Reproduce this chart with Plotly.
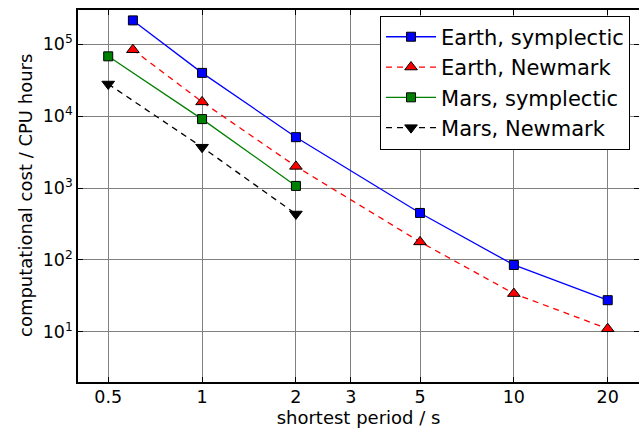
import math
import plotly.graph_objects as go

# Data
earth_x = [0.6, 1, 2, 5, 10, 20]
earth_symp = [2.15e5, 4.0e4, 5.1e3, 450, 85, 27.5]
earth_newm = [8.4e4, 1.58e4, 2.0e3, 178, 34, 11]
mars_x = [0.5, 1, 2]
mars_symp = [6.8e4, 9.1e3, 1.07e3]
mars_newm = [2.8e4, 3.7e3, 435]

x_ticks = [0.5, 1, 2, 3, 5, 10, 20]
x_ticklabels = ["0.5", "1", "2", "3", "5", "10", "20"]
y_ticks = [10, 100, 1000, 10000, 100000]
y_ticklabels = ["10<sup>1</sup>", "10<sup>2</sup>", "10<sup>3</sup>", "10<sup>4</sup>", "10<sup>5</sup>"]

FONT = "DejaVu Sans"

fig = go.Figure()

def add(x, y, name, color, symbol, dash, size):
    fig.add_trace(go.Scatter(
        x=x, y=y, name=name, mode="lines+markers",
        line=dict(color=color, width=1.3, dash=dash),
        marker=dict(symbol=symbol, size=size, color=color,
                    line=dict(color="black", width=1)),
    ))

add(earth_x, earth_symp, "Earth, symplectic", "#0000ff", "square", "solid", 9)
add(earth_x, earth_newm, "Earth, Newmark", "#ff0000", "triangle-up", "6px,5px", 11)
add(mars_x, mars_symp, "Mars, symplectic", "#008000", "square", "solid", 9)
add(mars_x, mars_newm, "Mars, Newmark", "#000000", "triangle-down", "6px,5px", 11)

fig.update_layout(
    width=639, height=429,
    margin=dict(l=78, r=0, t=10, b=47, autoexpand=False),
    paper_bgcolor="white", plot_bgcolor="white",
    font=dict(family=FONT, size=17.5, color="black"),
    showlegend=True,
    legend=dict(
        x=0.984, y=0.985, xanchor="right", yanchor="top",
        bgcolor="white", bordercolor="black", borderwidth=1,
        font=dict(family=FONT, size=21, color="black"),
        tracegroupgap=0, itemwidth=50,
    ),
    annotations=[dict(
        text="computational cost / CPU hours",
        xref="paper", yref="paper", x=-(78 - 25) / 561, y=0.5,
        xanchor="center", yanchor="middle", textangle=-90, showarrow=False,
        font=dict(family=FONT, size=18, color="black"),
    )],
)

fig.update_xaxes(
    type="log", range=[math.log10(0.4), math.log10(25.2)],
    tickvals=x_ticks, ticktext=x_ticklabels,
    ticks="inside", ticklen=5, tickcolor="black",
    showline=True, linecolor="black", linewidth=1.5, mirror="ticks",
    showgrid=True, gridcolor="#808080", gridwidth=1,
    zeroline=False, automargin=False, ticklabelstandoff=-2,
    title=dict(text="shortest period / s", font=dict(family=FONT, size=18), standoff=6),
    tickfont=dict(family=FONT, size=17.5),
)
fig.update_yaxes(
    type="log", range=[math.log10(2.0), math.log10(3.0e5)],
    tickvals=y_ticks, ticktext=y_ticklabels,
    ticks="inside", ticklen=5, tickcolor="black",
    showline=True, linecolor="black", linewidth=1.5, mirror="ticks",
    showgrid=True, gridcolor="#808080", gridwidth=1,
    zeroline=False, automargin=False,
    tickfont=dict(family=FONT, size=17.5),
)

fig.write_html(
    "out.html",
    config={"displayModeBar": False},
    post_script="document.body.style.margin='0px';document.body.style.overflow='hidden';",
)
